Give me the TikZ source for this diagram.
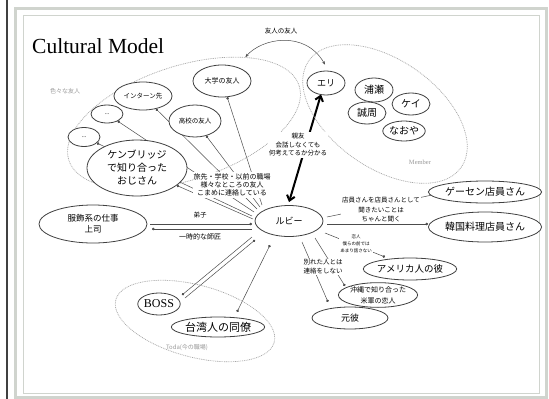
\documentclass[tikz,border=0pt]{standalone}
\usepackage{fontspec}
\setmainfont{Liberation Serif}
\newfontfamily\jp{Noto Sans CJK JP}
\usetikzlibrary{shapes.geometric,arrows.meta,calc}
\pgfdeclarelayer{bg}
\pgfdeclarelayer{paper}
\pgfsetlayers{paper,bg,main}
\newcommand\jpsize[2]{\jp\fontsize{#1}{#2}\selectfont}
\definecolor{framec}{RGB}{208,212,206}
\tikzset{
  ell/.style={ellipse, draw=black!75, line width=0.8pt, fill=white, inner sep=0pt, align=center},
  grp/.style={ellipse, draw=black!35, line width=0.7pt, dash pattern=on 0.9pt off 0.9pt, inner sep=0pt},
  lbl/.style={fill=white, inner sep=1pt, align=center},
  glbl/.style={text=black!40, inner sep=1pt},
  con/.style={draw=black!70, line width=0.5pt},
  dotend/.style={-{Circle[length=2.6pt]}},
  dotstart/.style={{Circle[length=2.6pt]}-},
  dotboth/.style={{Circle[length=2.6pt]}-{Circle[length=2.6pt]}},
  bigarrow/.style={draw=black, line width=2pt, {Straight Barb[length=5pt,width=8pt]}-{Straight Barb[length=5pt,width=8pt]}},
}
\begin{document}
\begin{tikzpicture}[x=1pt,y=1pt]
\useasboundingbox (0,0) rectangle (549,-399);
\begin{pgfonlayer}{paper}
\fill[white] (0,0) rectangle (549,-399);
\end{pgfonlayer}
\draw[black!75, line width=1.3pt] (7,0) -- (7,-399);
\draw[framec, line width=2.2pt] (15.5,-8.5) rectangle (546.5,-397.5);
\draw[framec, line width=0.8pt] (23,-15) rectangle (539,-393);

\node[anchor=base west, inner sep=0pt, font=\fontsize{21.5}{24}\selectfont] (title) at (32,-53) {Cultural Model};

% groups
\node[grp, minimum width=242, minimum height=114, rotate=18] (friends) at (184,-123) {};
\node[glbl, font=\jpsize{6}{7}] (friendslbl) at (65,-91) {色々な友人};
\node[grp, minimum width=186, minimum height=108, rotate=-35] (members) at (385,-114) {};
\node[glbl, font=\fontsize{6.5}{7}\selectfont] (memberlbl) at (420,-162) {Member};
\node[grp, minimum width=164, minimum height=72, rotate=-15] (toda) at (195,-321) {};
\node[glbl, font=\jpsize{6}{7}] (todalbl) at (187,-348) {Toda(今の職場)};

% friends
\node[ell, minimum width=58, minimum height=32, font=\jpsize{7}{8}] (daigaku) at (222,-81) {大学の友人};
\node[ell, minimum width=58, minimum height=28, font=\jpsize{6.5}{8}] (intern) at (143,-96) {インターン先};
\node[ell, minimum width=52, minimum height=32, font=\jpsize{6.5}{8}] (koukou) at (195,-121) {高校の友人};
\node[ell, minimum width=32, minimum height=18, font=\fontsize{6}{7}\selectfont] (etcA) at (107,-114) {...};
\node[ell, minimum width=32, minimum height=19, font=\fontsize{6}{7}\selectfont] (etcB) at (84,-137) {...};
\node[ell, minimum width=100, minimum height=56, font=\jpsize{10}{13}] (cam) at (137,-168) {ケンブリッジ\\で知り合った\\おじさん};

% members
\node[ell, minimum width=38, minimum height=24, font=\jpsize{9}{10}] (eri) at (326,-83) {エリ};
\node[ell, minimum width=38, minimum height=24, font=\jpsize{10}{11}] (urase) at (374,-90) {浦瀬};
\node[ell, minimum width=38, minimum height=22, font=\jpsize{10}{11}] (kei) at (411,-104) {ケイ};
\node[ell, minimum width=38, minimum height=22, font=\jpsize{10}{11}] (seishu) at (367,-113) {誠周};
\node[ell, minimum width=38, minimum height=20, font=\jpsize{10}{11}] (naoya) at (404,-131) {なおや};

% center and others
\node[ell, minimum width=68, minimum height=31, font=\jpsize{9}{10}] (ruby) at (289,-221) {ルビー};
\node[ell, minimum width=108, minimum height=38, font=\jpsize{8.5}{11}] (fuku) at (93,-224) {服飾系の仕事\\上司};
\node[ell, minimum width=94, minimum height=22, font=\jpsize{10}{11}] (gesen) at (485,-192) {ゲーセン店員さん};
\node[ell, minimum width=104, minimum height=30, font=\jpsize{10}{11}] (kankoku) at (485,-227) {韓国料理店員さん};
\node[ell, minimum width=76, minimum height=22, font=\jpsize{9.5}{11}] (america) at (410,-269) {アメリカ人の彼};
\node[ell, minimum width=76, minimum height=24, font=\jpsize{7}{11}] (okinawa) at (378,-295) {沖縄で知り合った\\米軍の恋人};
\node[ell, minimum width=76, minimum height=22, font=\jpsize{9}{10}] (motokare) at (350,-318) {元彼};
\node[ell, minimum width=42, minimum height=22, font=\fontsize{12}{13}\selectfont] (boss) at (159,-304) {BOSS};
\node[ell, minimum width=78, minimum height=20, font=\jpsize{11}{12}] (taiwan) at (218,-327) {台湾人の同僚};

% connectors
\begin{pgfonlayer}{bg}
\draw[con, dotend] ($(ruby)+(-27,16)$) -- (daigaku);
\draw[con, dotend] ($(ruby)+(-29,14)$) -- (koukou);
\draw[con, dotend] ($(ruby)+(-32,12)$) -- (intern);
\draw[con, dotend] ($(ruby)+(-35,9)$) -- (etcA);
\draw[con, dotend] ($(ruby)+(-37,5)$) -- (etcB);
\draw[con, dotend] ($(ruby)+(-36,2)$) -- (cam);
\draw[con, dotend] ($(fuku)+(57,0)$) -- ($(ruby)+(-37,-3)$);
\draw[con, dotstart] ($(fuku)+(59,-5)$) -- ($(ruby)+(-37,-8)$);
\draw[con, dotstart] ($(boss)+(23,9)$) -- ($(ruby)+(-37,-16)$);
\draw[con, dotend] ($(boss)+(26,6)$) -- ($(ruby)+(-34,-19)$);
\draw[con, dotboth] ($(taiwan)+(19,15)$) -- ($(ruby)+(-19,-24)$);
\draw[con, dotend] ($(ruby)+(38,4)$) -- ($(gesen)+(-48,-2)$);
\draw[con, dotend] ($(ruby)+(38,-3)$) -- ($(kankoku)+(-57,3)$);
\draw[con, dotend] ($(ruby)+(36,-12)$) -- ($(america)+(-25,12)$);
\draw[con, dotend] ($(ruby)+(26,-17)$) -- ($(okinawa)+(-33,9)$);
\draw[con, dotend] ($(ruby)+(13,-21)$) -- ($(motokare)+(-22,16)$);
\draw[bigarrow] ([yshift=3pt]ruby.north) -- ([xshift=-5pt,yshift=1pt]eri.south);
\draw[con, {Stealth[length=3.5pt,width=2.8pt]}-{Stealth[length=3.5pt,width=2.8pt]}]
  (friends.29) .. controls (262,-38) and (305,-30) .. ([xshift=-1pt,yshift=6pt]eri.north);
\end{pgfonlayer}

% labels
\node[lbl, font=\jpsize{7}{8.3}] (lblfriends) at (232,-185) {旅先・学校・以前の職場\\様々なところの友人\\こまめに連絡している};
\node[lbl, font=\jpsize{6.5}{8.5}] (lblshinyu) at (298,-145) {親友\\会話しなくても\\何考えてるか分かる};
\node[lbl, font=\jpsize{6.5}{9.5}] (lbltenin) at (381,-210) {店員さんを店員さんとして\\聞きたいことは\\ちゃんと聞く};
\node[lbl, font=\jpsize{4.5}{6.8}] (lblkoibito) at (356,-244) {恋人\\僕らの前では\\あまり話さない};
\node[lbl, font=\jpsize{6.5}{9}] (lblwakare) at (323,-267) {別れた人とは\\連絡をしない};
\node[lbl, font=\jpsize{6.5}{7}] (lbldeshi) at (200,-215) {弟子};
\node[lbl, font=\jpsize{7}{8}] (lblshisho) at (200,-237) {一時的な師匠};
\node[lbl, font=\jpsize{6.5}{7}, fill=none] (lblyujin) at (281,-31) {友人の友人};
\end{tikzpicture}
\end{document}
